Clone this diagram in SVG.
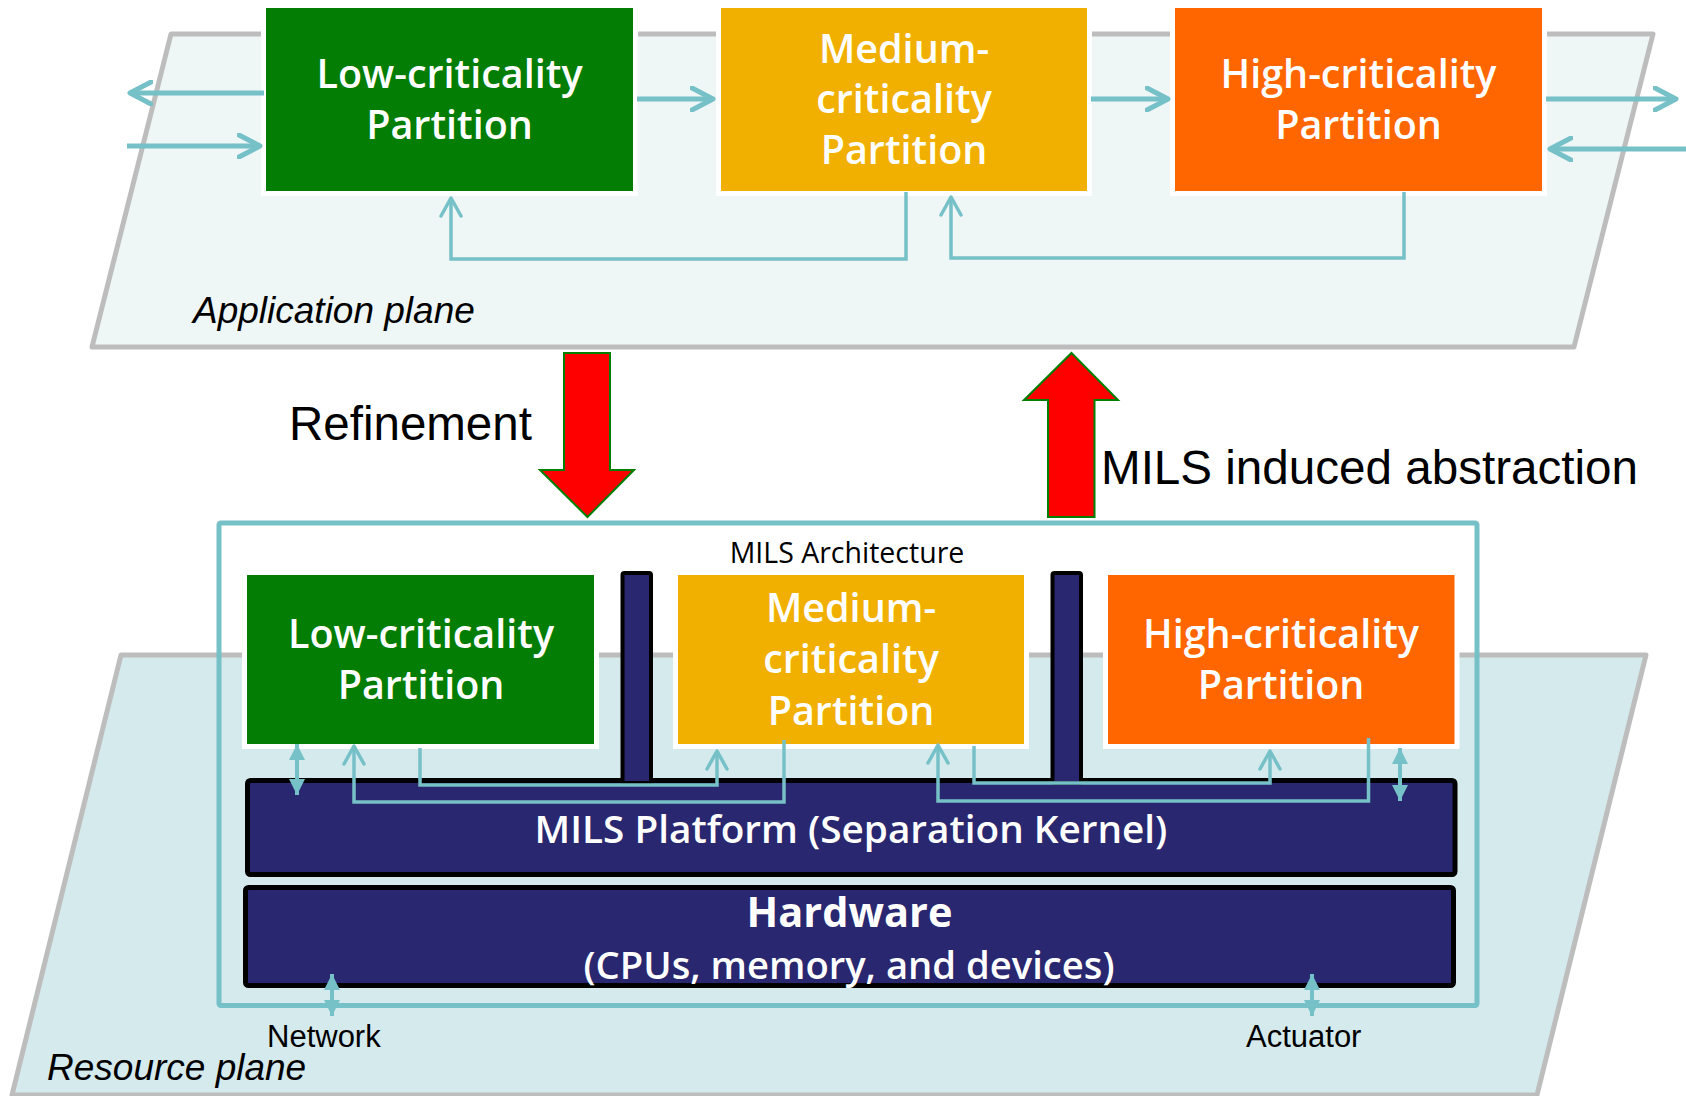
<svg xmlns="http://www.w3.org/2000/svg" width="1686" height="1096" viewBox="0 0 1686 1096">
  <style>
    .plane { stroke: #bdbdbd; stroke-width: 5; stroke-linejoin: round; }
    .box { stroke: #ffffff; stroke-width: 5; }
    .low { fill: #037d03; }
    .med { fill: #f1b000; }
    .high { fill: #ff6600; }
    .ptxt { font-family: "Open Sans", "Noto Sans", sans-serif; font-size: 39.5px; font-weight: 600; fill: #ffffff; text-anchor: middle; }
    .ktxt { font-size: 38.7px; }
    .dev { font-size: 38.2px; }
    .hw { font-size: 41.5px; font-weight: 700; }
    .wire { fill: none; stroke: #76c0c7; stroke-linejoin: miter; }
    .thick { stroke-width: 5; }
    .thin { stroke-width: 3.5; }
    .dbl { stroke-width: 4; }
    .navy { fill: #28276f; stroke: #000000; stroke-width: 5; }
    .wall { stroke-width: 4; }
    .big { font-family: "Liberation Sans", Arial, sans-serif; font-size: 47.5px; fill: #000000; }
    .plabel { font-family: "Liberation Sans", Arial, sans-serif; font-size: 37px; font-style: italic; fill: #000000; }
    .small { font-family: "Liberation Sans", Arial, sans-serif; font-size: 31px; fill: #000000; }
    .caption { font-family: "Open Sans", "Noto Sans", sans-serif; font-size: 28.5px; fill: #000000; text-anchor: middle; }
    .red { fill: #ff0000; stroke: #008000; stroke-width: 2; }
  </style>
  <defs>
    <marker id="chevBig" viewBox="0 0 26 26" refX="23" refY="13" markerWidth="26" markerHeight="26" markerUnits="userSpaceOnUse" orient="auto-start-reverse">
      <path d="M2,2 L23,13 L2,24" fill="none" stroke="#76c0c7" stroke-width="5" stroke-linecap="round" stroke-linejoin="round"/>
    </marker>
    <marker id="chevSmall" viewBox="0 0 22 24" refX="20" refY="12" markerWidth="22" markerHeight="24" markerUnits="userSpaceOnUse" orient="auto-start-reverse">
      <path d="M2,2 L20,12 L2,22" fill="none" stroke="#76c0c7" stroke-width="3.5" stroke-linecap="round" stroke-linejoin="round"/>
    </marker>
    <marker id="tri" viewBox="0 0 16 16" refX="16" refY="8" markerWidth="16" markerHeight="16" markerUnits="userSpaceOnUse" orient="auto-start-reverse">
      <path d="M0,0 L16,8 L0,16 Z" fill="#76c0c7"/>
    </marker>
  </defs>

  <rect width="1686" height="1096" fill="#ffffff"/>

  <!-- Application plane -->
  <g id="application-plane">
    <polygon class="plane" points="171,34 1653,34 1574,347 92,347" fill="#eef7f6"/>
    <text class="plabel" x="193" y="323">Application plane</text>
  </g>

  <!-- Application-level partitions -->
  <g id="app-low">
    <rect class="box low" x="263.5" y="5.5" width="372" height="188"/>
    <text class="ptxt" x="449.5" y="88">Low-criticality</text>
    <text class="ptxt" x="449.5" y="139">Partition</text>
  </g>
  <g id="app-medium">
    <rect class="box med" x="718.5" y="5.5" width="371" height="188"/>
    <text class="ptxt" x="904" y="63">Medium-</text>
    <text class="ptxt" x="904" y="113">criticality</text>
    <text class="ptxt" x="904" y="164">Partition</text>
  </g>
  <g id="app-high">
    <rect class="box high" x="1172.5" y="5.5" width="372" height="188"/>
    <text class="ptxt" x="1358.5" y="88">High-criticality</text>
    <text class="ptxt" x="1358.5" y="139">Partition</text>
  </g>

  <!-- Application-level connectors -->
  <g id="app-connectors">
    <line class="wire thick" x1="264" y1="93" x2="130" y2="93" marker-end="url(#chevBig)"/>
    <line class="wire thick" x1="127" y1="146" x2="260" y2="146" marker-end="url(#chevBig)"/>
    <line class="wire thick" x1="637" y1="99" x2="713" y2="99" marker-end="url(#chevBig)"/>
    <line class="wire thick" x1="1091" y1="99" x2="1168" y2="99" marker-end="url(#chevBig)"/>
    <line class="wire thick" x1="1546" y1="99" x2="1676" y2="99" marker-end="url(#chevBig)"/>
    <line class="wire thick" x1="1690" y1="149" x2="1550" y2="149" marker-end="url(#chevBig)"/>
    <path class="wire thin" d="M906,192 V259 H451 V198" marker-end="url(#chevSmall)"/>
    <path class="wire thin" d="M1404,192 V258 H951 V197" marker-end="url(#chevSmall)"/>
  </g>

  <!-- Refinement / abstraction arrows -->
  <g id="refinement">
    <polygon class="red" points="564,353 610,353 610,470 634,470 587.5,517 540,470 564,470"/>
    <text class="big" x="289" y="440">Refinement</text>
  </g>
  <g id="abstraction">
    <polygon class="red" points="1071.5,353 1118,400 1094.5,400 1094.5,517 1048,517 1048,400 1024,400"/>
    <text class="big" x="1101" y="484" textLength="537" lengthAdjust="spacingAndGlyphs">MILS induced abstraction</text>
  </g>

  <!-- Resource plane -->
  <g id="resource-plane">
    <polygon class="plane" points="121,655 1646,655 1537,1095 12,1095" fill="#d5eaed"/>
    <text class="plabel" x="47" y="1080">Resource plane</text>
  </g>

  <!-- MILS architecture frame -->
  <g id="mils-architecture">
    <rect x="219" y="523" width="1258" height="482.5" fill="none" stroke="#76c0c7" stroke-width="5" rx="2"/>
    <text class="caption" x="847" y="563">MILS Architecture</text>
  </g>

  <g id="platform">
    <rect class="navy" x="247.5" y="780.5" width="1207.5" height="94" rx="3"/>
    <text class="ptxt ktxt" x="851" y="843">MILS Platform (Separation Kernel)</text>
  </g>
  <g id="hardware">
    <rect class="navy" x="245.5" y="887.5" width="1208" height="98" rx="3"/>
    <text class="ptxt hw" x="849.5" y="927">Hardware</text>
    <text class="ptxt dev" x="849" y="979">(CPUs, memory, and devices)</text>
  </g>

  <!-- Separation walls between partitions -->
  <g id="walls">
    <rect class="navy wall" x="622.5" y="573" width="28.5" height="210" rx="2"/>
    <rect class="navy wall" x="1052.5" y="573" width="28.5" height="210" rx="2"/>
  </g>

  <!-- Platform-level partitions -->
  <g id="res-low">
    <rect class="box low" x="244.5" y="572.5" width="352" height="174"/>
    <text class="ptxt" x="421" y="648">Low-criticality</text>
    <text class="ptxt" x="421" y="699">Partition</text>
  </g>
  <g id="res-medium">
    <rect class="box med" x="675.5" y="572.5" width="351" height="174"/>
    <text class="ptxt" x="851" y="622">Medium-</text>
    <text class="ptxt" x="851" y="673">criticality</text>
    <text class="ptxt" x="851" y="725">Partition</text>
  </g>
  <g id="res-high">
    <rect class="box high" x="1105.5" y="572.5" width="351.5" height="174"/>
    <text class="ptxt" x="1281" y="648">High-criticality</text>
    <text class="ptxt" x="1281" y="699">Partition</text>
  </g>

  <!-- Platform-level connectors -->
  <g id="platform-connectors">
    <line class="wire dbl" x1="297" y1="744" x2="297" y2="795" marker-start="url(#tri)" marker-end="url(#tri)"/>
    <path class="wire thin" d="M784,740 V802 H354 V746" marker-end="url(#chevSmall)"/>
    <path class="wire thin" d="M420,748 V785 H717 V751" marker-end="url(#chevSmall)"/>
    <path class="wire thin" d="M974,746 V783 H1270 V751" marker-end="url(#chevSmall)"/>
    <path class="wire thin" d="M1368.5,738 V801 H938 V745" marker-end="url(#chevSmall)"/>
    <line class="wire dbl" x1="1400" y1="748" x2="1400" y2="801" marker-start="url(#tri)" marker-end="url(#tri)"/>
    <line class="wire dbl" x1="332" y1="974" x2="332" y2="1016" marker-start="url(#tri)" marker-end="url(#tri)"/>
    <line class="wire dbl" x1="1312" y1="974" x2="1312" y2="1016" marker-start="url(#tri)" marker-end="url(#tri)"/>
  </g>

  <g id="io-labels">
    <text class="small" x="267" y="1047">Network</text>
    <text class="small" x="1246" y="1047">Actuator</text>
  </g>
</svg>
